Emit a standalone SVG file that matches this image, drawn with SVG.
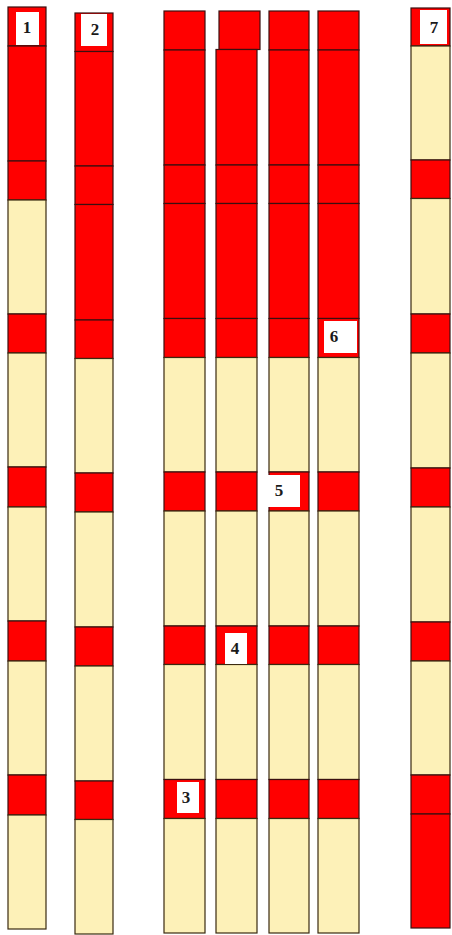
<svg xmlns="http://www.w3.org/2000/svg" width="452" height="935" viewBox="0 0 452 935">
<style>
.r{fill:#ff0000;stroke:#3a1010;stroke-width:1.2}
.c{fill:#fdf1b8;stroke:#3a2a10;stroke-width:1.2}
.w{fill:#ffffff;stroke:none}
.t{font-family:"Liberation Serif","Times New Roman",serif;font-weight:bold;font-size:17px;fill:#1a1a1a;text-anchor:middle}
</style>
<rect width="452" height="935" fill="#ffffff"/>
<g id="col1">
<rect class="r" x="8" y="7" width="38" height="39"/>
<rect class="r" x="8" y="46" width="38" height="115"/>
<rect class="r" x="8" y="161" width="38" height="39"/>
<rect class="c" x="8" y="200" width="38" height="114"/>
<rect class="r" x="8" y="314" width="38" height="39"/>
<rect class="c" x="8" y="353" width="38" height="114"/>
<rect class="r" x="8" y="467" width="38" height="40"/>
<rect class="c" x="8" y="507" width="38" height="114"/>
<rect class="r" x="8" y="621" width="38" height="40"/>
<rect class="c" x="8" y="661" width="38" height="114"/>
<rect class="r" x="8" y="775" width="38" height="40"/>
<rect class="c" x="8" y="815" width="38" height="114"/>
<rect class="w" x="16" y="12" width="23" height="33"/>
<text class="t" x="27" y="33">1</text>
</g>
<g id="col2">
<rect class="r" x="75" y="13" width="38" height="38.5"/>
<rect class="r" x="75" y="51.5" width="38" height="114.5"/>
<rect class="r" x="75" y="166" width="38" height="38.5"/>
<rect class="r" x="75" y="204.5" width="38" height="115.5"/>
<rect class="r" x="75" y="320" width="38" height="38.5"/>
<rect class="c" x="75" y="358.5" width="38" height="114.5"/>
<rect class="r" x="75" y="473" width="38" height="39"/>
<rect class="c" x="75" y="512" width="38" height="115"/>
<rect class="r" x="75" y="627" width="38" height="39"/>
<rect class="c" x="75" y="666" width="38" height="115"/>
<rect class="r" x="75" y="781" width="38" height="38.5"/>
<rect class="c" x="75" y="819.5" width="38" height="114.5"/>
<rect class="w" x="81" y="14" width="26" height="32"/>
<text class="t" x="95" y="35">2</text>
</g>
<g id="col3">
<rect class="r" x="164" y="11" width="41" height="39"/>
<rect class="r" x="164" y="50" width="41" height="115"/>
<rect class="r" x="164" y="165" width="41" height="38.5"/>
<rect class="r" x="164" y="203.5" width="41" height="115"/>
<rect class="r" x="164" y="318.5" width="41" height="39"/>
<rect class="c" x="164" y="357.5" width="41" height="114.5"/>
<rect class="r" x="164" y="472" width="41" height="39"/>
<rect class="c" x="164" y="511" width="41" height="115"/>
<rect class="r" x="164" y="626" width="41" height="38.5"/>
<rect class="c" x="164" y="664.5" width="41" height="115"/>
<rect class="r" x="164" y="779.5" width="41" height="39"/>
<rect class="c" x="164" y="818.5" width="41" height="114.5"/>
<rect class="w" x="177" y="782" width="22" height="31"/>
<text class="t" x="186" y="803">3</text>
</g>
<g id="col4">
<rect class="r" x="219" y="11" width="41" height="38.5"/>
<rect class="r" x="216" y="49.5" width="41" height="115.5"/>
<rect class="r" x="216" y="165" width="41" height="38.5"/>
<rect class="r" x="216" y="203.5" width="41" height="115"/>
<rect class="r" x="216" y="318.5" width="41" height="39"/>
<rect class="c" x="216" y="357.5" width="41" height="114.5"/>
<rect class="r" x="216" y="472" width="41" height="39"/>
<rect class="c" x="216" y="511" width="41" height="115"/>
<rect class="r" x="216" y="626" width="41" height="38.5"/>
<rect class="c" x="216" y="664.5" width="41" height="115"/>
<rect class="r" x="216" y="779.5" width="41" height="39"/>
<rect class="c" x="216" y="818.5" width="41" height="114.5"/>
<rect class="w" x="225" y="633" width="22" height="31"/>
<text class="t" x="235" y="654">4</text>
</g>
<g id="col5">
<rect class="r" x="269" y="11" width="40" height="39"/>
<rect class="r" x="269" y="50" width="40" height="115"/>
<rect class="r" x="269" y="165" width="40" height="38.5"/>
<rect class="r" x="269" y="203.5" width="40" height="115"/>
<rect class="r" x="269" y="318.5" width="40" height="39"/>
<rect class="c" x="269" y="357.5" width="40" height="114.5"/>
<rect class="r" x="269" y="472" width="40" height="39"/>
<rect class="c" x="269" y="511" width="40" height="115"/>
<rect class="r" x="269" y="626" width="40" height="38.5"/>
<rect class="c" x="269" y="664.5" width="40" height="115"/>
<rect class="r" x="269" y="779.5" width="40" height="39"/>
<rect class="c" x="269" y="818.5" width="40" height="114.5"/>
<rect class="w" x="268" y="475" width="32" height="32"/>
<text class="t" x="279" y="496">5</text>
</g>
<g id="col6">
<rect class="r" x="318" y="11" width="41" height="39"/>
<rect class="r" x="318" y="50" width="41" height="115"/>
<rect class="r" x="318" y="165" width="41" height="38.5"/>
<rect class="r" x="318" y="203.5" width="41" height="115"/>
<rect class="r" x="318" y="318.5" width="41" height="39"/>
<rect class="c" x="318" y="357.5" width="41" height="114.5"/>
<rect class="r" x="318" y="472" width="41" height="39"/>
<rect class="c" x="318" y="511" width="41" height="115"/>
<rect class="r" x="318" y="626" width="41" height="38.5"/>
<rect class="c" x="318" y="664.5" width="41" height="115"/>
<rect class="r" x="318" y="779.5" width="41" height="39"/>
<rect class="c" x="318" y="818.5" width="41" height="114.5"/>
<rect class="w" x="324" y="321" width="33" height="32"/>
<text class="t" x="334" y="342">6</text>
</g>
<g id="col7">
<rect class="r" x="411" y="8" width="39" height="38"/>
<rect class="c" x="411" y="46" width="39" height="114"/>
<rect class="r" x="411" y="160" width="39" height="38.5"/>
<rect class="c" x="411" y="198.5" width="39" height="115.5"/>
<rect class="r" x="411" y="314" width="39" height="39"/>
<rect class="c" x="411" y="353" width="39" height="115"/>
<rect class="r" x="411" y="468" width="39" height="39"/>
<rect class="c" x="411" y="507" width="39" height="115"/>
<rect class="r" x="411" y="622" width="39" height="39"/>
<rect class="c" x="411" y="661" width="39" height="114"/>
<rect class="r" x="411" y="775" width="39" height="39"/>
<rect class="r" x="411" y="814" width="39" height="114"/>
<rect class="w" x="420" y="10" width="27" height="34"/>
<text class="t" x="434" y="33">7</text>
</g>
<g id="connectors"/>
</svg>
